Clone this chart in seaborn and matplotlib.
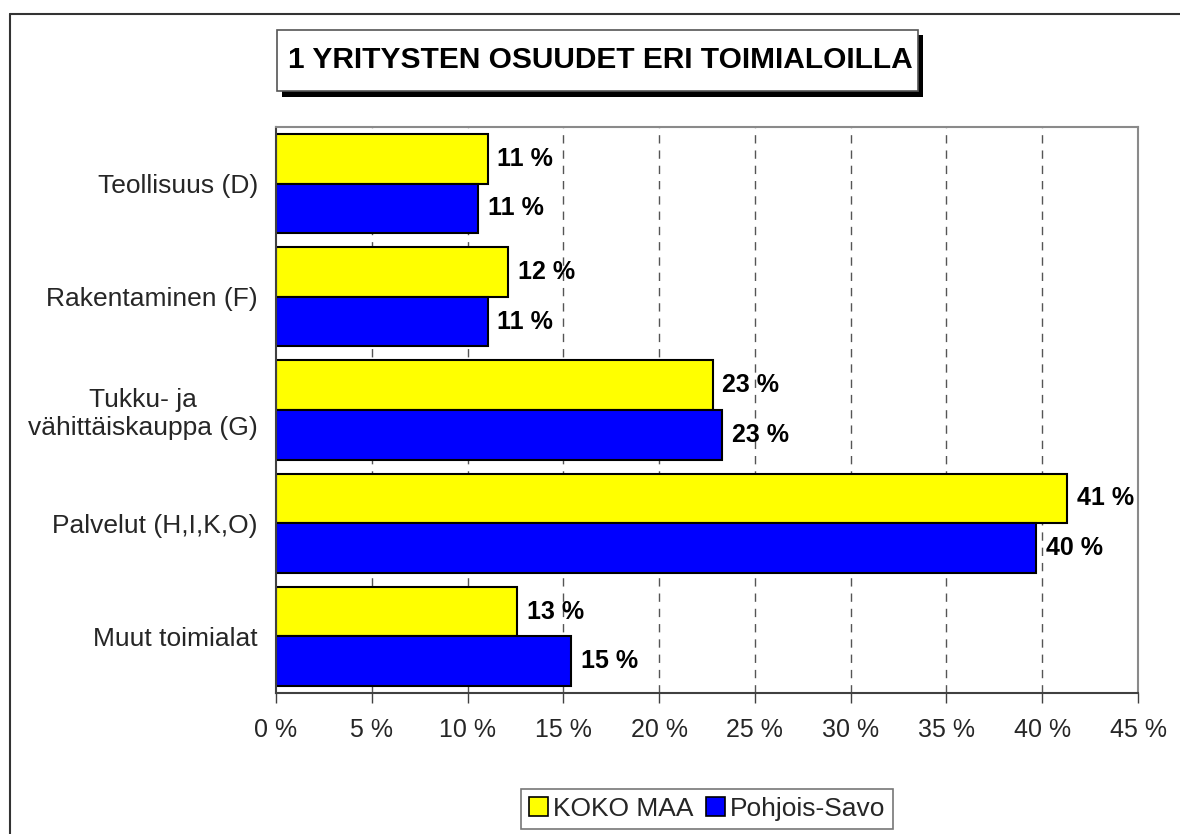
import matplotlib
matplotlib.use("Agg")
import matplotlib.pyplot as plt
import seaborn as sns
import pandas as pd
from matplotlib.patches import Rectangle
from matplotlib.lines import Line2D
from matplotlib.ticker import MultipleLocator, FuncFormatter

categories = ["Teollisuus (D)", "Rakentaminen (F)", "Tukku- ja\nvähittäiskauppa (G)",
              "Palvelut (H,I,K,O)", "Muut toimialat"]
series_names = ["KOKO MAA", "Pohjois-Savo"]
koko_maa = [11.05, 12.1, 22.8, 41.3, 12.6]
pohjois_savo = [10.55, 11.05, 23.3, 39.7, 15.4]
title_text = "1 YRITYSTEN OSUUDET ERI TOIMIALOILLA"
colors = ["#FFFF00", "#0000FF"]

df = pd.DataFrame({
    "Toimiala": categories * 2,
    "Sarja": [series_names[0]] * len(categories) + [series_names[1]] * len(categories),
    "Osuus": koko_maa + pohjois_savo,
})

sns.set_theme(style="white")
plt.rcParams["font.family"] = ["Liberation Sans", "DejaVu Sans"]

W, H = 1180, 834
fig = plt.figure(figsize=(W / 100, H / 100), dpi=100)
ax = fig.add_axes([276 / W, 1 - 693 / H, (1138 - 276) / W, (693 - 127) / H])

sns.barplot(data=df, y="Toimiala", x="Osuus", hue="Sarja", order=categories,
            hue_order=series_names, palette=colors, orient="h", width=0.875,
            edgecolor="black", linewidth=1.5, saturation=1, ax=ax, legend=True)

ax.set_xlim(0, 45)
ax.xaxis.set_major_locator(MultipleLocator(5))
ax.xaxis.set_major_formatter(FuncFormatter(lambda v, p: f"{v:.0f} %"))
ax.set_xlabel("")
ax.set_ylabel("")
ax.grid(False)
for xv in range(5, 45, 5):
    ax.axvline(xv, color="#555555", lw=1, ls=(0, (6, 5)), zorder=0)

ax.tick_params(axis="x", direction="out", length=7, width=1, color="#404040",
               labelsize=18, pad=11, bottom=True)
ax.tick_params(axis="y", length=0, labelsize=19, pad=13)
for lab in ax.get_yticklabels():
    lab.set_horizontalalignment("right")
    lab.set_multialignment("center")

for s in ["top", "right"]:
    ax.spines[s].set_color("#8a8a8a")
    ax.spines[s].set_linewidth(1.5)
for s in ["left", "bottom"]:
    ax.spines[s].set_color("#404040")
    ax.spines[s].set_linewidth(1.5)

for cont in ax.containers:
    ax.bar_label(cont, labels=[f"{round(v):.0f} %" for v in cont.datavalues],
                 padding=7, fontsize=18, fontweight="bold", color="black")

# legend
ax.legend_.remove()
handles = [Rectangle((0, 0), 1, 1, facecolor=c, edgecolor="black", lw=1.2) for c in colors]
leg = fig.legend(handles, series_names, loc="center", bbox_to_anchor=(707 / W, 1 - 809 / H),
                 ncol=2, fontsize=19, frameon=True, fancybox=False, handlelength=0.72,
                 handleheight=0.72, handletextpad=0.2, columnspacing=0.45, borderpad=0.3,
                 edgecolor="#555555")
leg.get_frame().set_linewidth(1.2)

# title box with shadow
fig.patches.append(Rectangle((282 / W, 1 - 97 / H), (923 - 282) / W, (97 - 35) / H,
                             transform=fig.transFigure, facecolor="black", edgecolor="none"))
fig.patches.append(Rectangle((277 / W, 1 - 91 / H), (918 - 277) / W, (91 - 30) / H,
                             transform=fig.transFigure, facecolor="white",
                             edgecolor="#555555", lw=1.2))
fig.text(600 / W, 1 - 60 / H, title_text, ha="center", va="center",
         fontsize=21.5, fontweight="bold", color="black")

# outer chart border (cropped at right and bottom)
fig.add_artist(Line2D([10 / W, 10 / W], [0, 1 - 14 / H], transform=fig.transFigure,
                      color="#333333", lw=1.5))
fig.add_artist(Line2D([10 / W, 1], [1 - 14 / H, 1 - 14 / H], transform=fig.transFigure,
                      color="#333333", lw=1.5))

fig.savefig("out.png", dpi=100)
